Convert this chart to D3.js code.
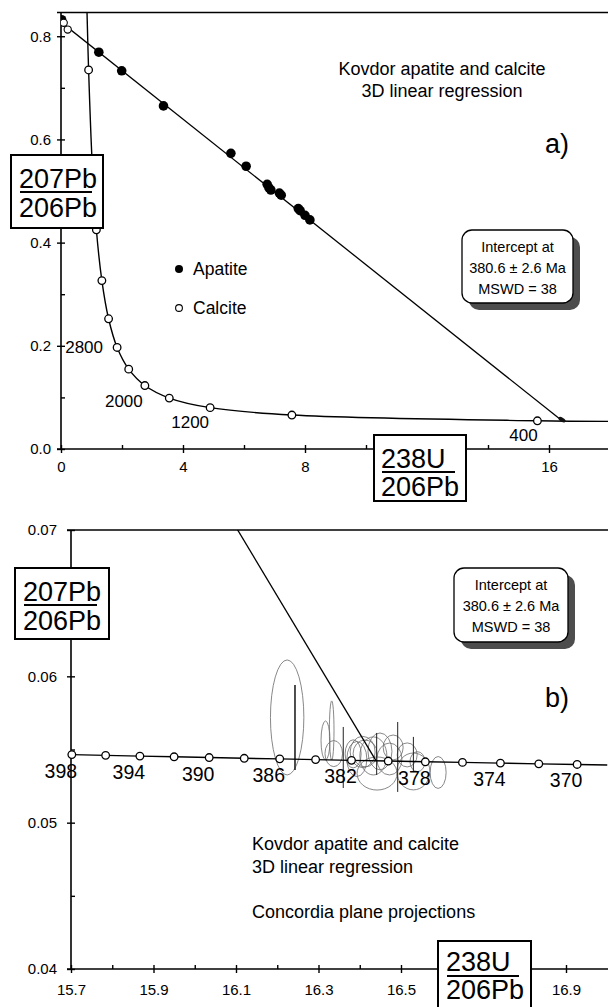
<!DOCTYPE html>
<html><head><meta charset="utf-8">
<script src="https://cdn.jsdelivr.net/npm/d3@7"></script>
<style>
html,body{margin:0;padding:0;background:#fff;}
svg{display:block;font-family:"Liberation Sans",Arial,sans-serif;}
</style></head>
<body>
<svg id="chart" width="608" height="1007"></svg>
<script>
// ---------- DATA ----------
// Panel a: apatite (filled) and calcite (open) analyses
const apatiteX = [0.02, 1.24, 1.99, 3.36, 5.57, 6.07, 6.76, 6.82, 6.88, 7.16, 7.22, 7.78, 7.84, 8.00, 8.16];
const apatiteY = [0.832, 0.769, 0.733, 0.665, 0.573, 0.548, 0.513, 0.506, 0.502, 0.496, 0.492, 0.466, 0.462, 0.453, 0.444];
const calciteX = [0.09, 0.22];
const calciteY = [0.826, 0.813];
// Concordia age markers, panel a (Ma)
const concAges = [400, 800, 1200, 1600, 2000, 2400, 2800, 3200, 3600, 4000, 4400, 4800];
const concAX = [15.62, 7.57, 4.89, 3.55, 2.75, 2.22, 1.84, 1.56, 1.34, 1.16, 1.02, 0.905];
const concAY = [0.0547, 0.0658, 0.0801, 0.0987, 0.1230, 0.1548, 0.1968, 0.2524, 0.3264, 0.4249, 0.5572, 0.7346];
// concordia curve ends (right edge and top edge)
const concAEndX = [18.0, 0.853];
const concAEndY = [0.0535, 0.846];
const concALabelAges = [400, 1200, 2000, 2800];
// Regression line (3D linear regression projection)
const regX = [0, 16.44];
const regY = [0.8275, 0.0542];

// Panel b: concordia markers every 2 Ma
const concBAges = [398, 396, 394, 392, 390, 388, 386, 384, 382, 380, 378, 376, 374, 372, 370];
const concBX = [15.702, 15.784, 15.867, 15.950, 16.035, 16.120, 16.206, 16.293, 16.380, 16.469, 16.559, 16.649, 16.741, 16.834, 16.927];
const concBY = [0.05465, 0.05460, 0.05455, 0.05450, 0.05445, 0.05440, 0.05436, 0.05431, 0.05426, 0.05421, 0.05416, 0.05412, 0.05407, 0.05402, 0.05398];
const concBEndX = [17.0];
const concBEndY = [0.05394];
const concBLabelAges = [398, 394, 390, 386, 382, 378, 374, 370];
// Error ellipses (centre, semi-axes) in data units
const ellCx = [16.224, 16.317, 16.332, 16.337, 16.384, 16.393, 16.407, 16.413, 16.433, 16.442, 16.449, 16.472, 16.481, 16.515, 16.530, 16.540, 16.590];
const ellCy = [0.05719, 0.05562, 0.05630, 0.05472, 0.05470, 0.05435, 0.05483, 0.05473, 0.05456, 0.05336, 0.05487, 0.05435, 0.05514, 0.05463, 0.05350, 0.05417, 0.05343];
const ellRx = [0.0405, 0.0109, 0.0056, 0.0213, 0.0194, 0.0242, 0.0303, 0.0291, 0.0327, 0.0485, 0.0291, 0.0303, 0.0242, 0.0242, 0.0400, 0.0182, 0.0194];
const ellRy = [0.00393, 0.00133, 0.00202, 0.00089, 0.00096, 0.00120, 0.00107, 0.00092, 0.00130, 0.00113, 0.00126, 0.00109, 0.00085, 0.00082, 0.00126, 0.00068, 0.00109];
// Vertical projection bars
const barX = [16.243, 16.360, 16.441, 16.492, 16.530];
const barY1 = [0.05941, 0.05654, 0.05613, 0.05688, 0.05586];
const barY2 = [0.05360, 0.05237, 0.05326, 0.05210, 0.05347];

// Ticks
const aXMajor = [0, 4, 8, 12, 16];
const aXLabeled = [0, 4, 8, 16];
const aXMinor = [2, 6, 10, 14];
const aYMajor = [0.0, 0.2, 0.4, 0.6, 0.8];
const aYMinor = [0.1, 0.3, 0.5, 0.7];
const bXMajor = [15.7, 15.9, 16.1, 16.3, 16.5, 16.7, 16.9];
const bXLabeled = [15.7, 15.9, 16.1, 16.3, 16.5, 16.9];
const bXMinor = [15.8, 16.0, 16.2, 16.4, 16.6, 16.8];
const bYMajor = [0.04, 0.05, 0.06, 0.07];
const bYMinor = [0.045, 0.055, 0.065];

// Texts
const titleLines = ["Kovdor apatite and calcite", "3D linear regression"];
const titleLinesB = ["Kovdor apatite and calcite", "3D linear regression", "Concordia plane projections"];
const interceptLines = ["Intercept at", "380.6 \u00b1 2.6 Ma", "MSWD = 38"];
const legendLabels = ["Apatite", "Calcite"];

// ---------- DRAWING ----------
const svg = d3.select("#chart");
const FONT = '"Liberation Sans", Arial, sans-serif';

// scales
const xa = d3.scaleLinear().domain([0, 18]).range([61, 610]);
const ya = d3.scaleLinear().domain([0, 0.846]).range([449, 12.5]);
const xb = d3.scaleLinear().domain([15.7, 17.0]).range([71, 607.25]);
const yb = d3.scaleLinear().domain([0.04, 0.07]).range([969, 530]);

function labelFmt(list, fmt) {
  return d => list.some(v => Math.abs(v - d) < 1e-9) ? fmt(d) : "";
}

function drawAxes(x, y, xMaj, xMin, yMaj, yMin, xFmt, yFmt, xPad, yPad) {
  const g = svg.append("g");
  const x0 = x.range()[0], y0 = y.range()[0], yTop = y.range()[1];
  const la = g.append("g").attr("transform", `translate(${x0},0)`)
    .call(d3.axisLeft(y).tickValues(yMaj).tickSize(4).tickSizeOuter(0).tickPadding(yPad).tickFormat(yFmt));
  la.select(".domain").remove();
  g.append("g").attr("transform", `translate(${x0},0)`)
    .call(d3.axisRight(y).tickValues(yMaj.concat(yMin)).tickSize(4).tickSizeOuter(0).tickFormat(""))
    .select(".domain").remove();
  const ba = g.append("g").attr("transform", `translate(0,${y0})`)
    .call(d3.axisBottom(x).tickValues(xMaj).tickSize(4).tickSizeOuter(0).tickPadding(xPad).tickFormat(xFmt));
  ba.select(".domain").remove();
  g.append("g").attr("transform", `translate(0,${y0})`)
    .call(d3.axisTop(x).tickValues(xMaj.concat(xMin)).tickSize(4).tickSizeOuter(0).tickFormat(""))
    .select(".domain").remove();
  g.selectAll(".tick line").attr("stroke", "#000").attr("stroke-width", 1.4);
  g.selectAll(".tick text").attr("font-family", FONT).attr("font-size", 15).attr("fill", "#000");
  g.selectAll(".tick text").filter(function () { return this.textContent === ""; }).remove();
  g.append("line").attr("x1", x0).attr("x2", x0).attr("y1", yTop).attr("y2", y0).attr("stroke", "#000").attr("stroke-width", 1.6);
  g.append("line").attr("x1", x0 - 4).attr("x2", 608).attr("y1", y0).attr("y2", y0).attr("stroke", "#000").attr("stroke-width", 1.6);
  g.append("line").attr("x1", x0 - 4).attr("x2", 608).attr("y1", yTop).attr("y2", yTop).attr("stroke", "#000").attr("stroke-width", 1.6);
  return g;
}

const defs = svg.append("defs");
defs.append("clipPath").attr("id", "clipA").append("rect")
  .attr("x", xa.range()[0]).attr("y", ya.range()[1]).attr("width", 608 - xa.range()[0]).attr("height", ya.range()[0] - ya.range()[1]);
defs.append("clipPath").attr("id", "clipB").append("rect")
  .attr("x", xb.range()[0]).attr("y", yb.range()[1]).attr("width", 608 - xb.range()[0]).attr("height", yb.range()[0] - yb.range()[1]);

// ===== Panel a =====
drawAxes(xa, ya, aXMajor, aXMinor, aYMajor, aYMinor, labelFmt(aXLabeled, d3.format("d")), d3.format(".1f"), 8, 6);
const pa = svg.append("g").attr("clip-path", "url(#clipA)");

const concAPts = [[concAEndX[0], concAEndY[0]]]
  .concat(concAX.map((v, i) => [v, concAY[i]]))
  .concat([[concAEndX[1], concAEndY[1]]]);
pa.append("path").datum(concAPts)
  .attr("d", d3.line().x(d => xa(d[0])).y(d => ya(d[1])).curve(d3.curveCatmullRom.alpha(0.5)))
  .attr("fill", "none").attr("stroke", "#000").attr("stroke-width", 1.4);

pa.append("line")
  .attr("x1", xa(regX[0])).attr("y1", ya(regY[0])).attr("x2", xa(regX[1])).attr("y2", ya(regY[1]))
  .attr("stroke", "#000").attr("stroke-width", 1.3);
pa.append("ellipse").attr("cx", xa(regX[1]) - 1).attr("cy", ya(regY[1]) - 1).attr("rx", 4).attr("ry", 2)
  .attr("transform", `rotate(30 ${xa(regX[1])} ${ya(regY[1])})`).attr("fill", "#111");

pa.selectAll("circle.conc").data(concAges).enter().append("circle")
  .attr("cx", (d, i) => xa(concAX[i])).attr("cy", (d, i) => ya(concAY[i])).attr("r", 3.8)
  .attr("fill", "#fff").attr("stroke", "#000").attr("stroke-width", 1.3);

pa.selectAll("circle.ap").data(apatiteX).enter().append("circle")
  .attr("cx", d => xa(d)).attr("cy", (d, i) => ya(apatiteY[i])).attr("r", 4.8).attr("fill", "#000");
pa.selectAll("circle.ca").data(calciteX).enter().append("circle")
  .attr("cx", d => xa(d)).attr("cy", (d, i) => ya(calciteY[i])).attr("r", 3.6)
  .attr("fill", "#fff").attr("stroke", "#000").attr("stroke-width", 1.1);

const aLabelOff = {400: [-14, 20], 1200: [-20, 20], 2000: [-21, 21], 2800: [-33, 6]};
svg.selectAll("text.agea").data(concALabelAges).enter().append("text")
  .attr("x", d => xa(concAX[concAges.indexOf(d)]) + aLabelOff[d][0])
  .attr("y", d => ya(concAY[concAges.indexOf(d)]) + aLabelOff[d][1])
  .attr("text-anchor", "middle").attr("font-family", FONT).attr("font-size", 17).text(d => d);

svg.selectAll("text.ta").data(titleLines).enter().append("text")
  .attr("x", 442).attr("y", (d, i) => 75 + i * 22).attr("text-anchor", "middle")
  .attr("font-family", FONT).attr("font-size", 18).text(d => d);
svg.append("text").attr("x", 545).attr("y", 153).attr("font-family", FONT).attr("font-size", 27).text("a)");

svg.append("circle").attr("cx", 179).attr("cy", 269).attr("r", 4).attr("fill", "#000");
svg.append("circle").attr("cx", 179).attr("cy", 308).attr("r", 3.4).attr("fill", "#fff").attr("stroke", "#000").attr("stroke-width", 1.1);
svg.selectAll("text.leg").data(legendLabels).enter().append("text")
  .attr("x", 193).attr("y", (d, i) => 275 + i * 39).attr("font-family", FONT).attr("font-size", 17.5).text(d => d);

function interceptBox(x, y, w, h) {
  const g = svg.append("g");
  g.append("rect").attr("x", x + 7).attr("y", y + 7).attr("width", w).attr("height", h).attr("rx", 10)
    .attr("fill", "#4d4d4d");
  g.append("rect").attr("x", x).attr("y", y).attr("width", w).attr("height", h).attr("rx", 10)
    .attr("fill", "#fff").attr("stroke", "#000").attr("stroke-width", 1.3);
  g.selectAll("text").data(interceptLines).enter().append("text")
    .attr("x", x + w / 2).attr("y", (d, i) => y + 22 + i * 21).attr("text-anchor", "middle")
    .attr("font-family", FONT).attr("font-size", 14.5).text(d => d);
}
interceptBox(462, 230, 111, 73);

function fracBox(x, y, w, h, top, bottom, tx, lineX2, topOff, lineOff, botOff) {
  const g = svg.append("g");
  g.append("rect").attr("x", x).attr("y", y).attr("width", w).attr("height", h)
    .attr("fill", "#fff").attr("stroke", "#000").attr("stroke-width", 2);
  g.append("text").attr("x", tx).attr("y", y + topOff).attr("font-family", FONT).attr("font-size", 27).text(top);
  g.append("line").attr("x1", tx + 1).attr("x2", lineX2).attr("y1", y + lineOff).attr("y2", y + lineOff).attr("stroke", "#000").attr("stroke-width", 2);
  g.append("text").attr("x", tx).attr("y", y + botOff).attr("font-family", FONT).attr("font-size", 27).text(bottom);
}
fracBox(11, 155, 92, 73, "207Pb", "206Pb", 19, 92, 33, 37, 62);
fracBox(374, 435, 92, 66, "238U", "206Pb", 381, 455, 33, 37, 61);

// ===== Panel b =====
drawAxes(xb, yb, bXMajor, bXMinor, bYMajor, bYMinor, labelFmt(bXLabeled, d3.format(".1f")), d3.format(".2f"), 11, 10);
const pb = svg.append("g").attr("clip-path", "url(#clipB)");

pb.selectAll("ellipse.err").data(ellCx).enter().append("ellipse")
  .attr("cx", d => xb(d)).attr("cy", (d, i) => yb(ellCy[i]))
  .attr("rx", (d, i) => xb(d + ellRx[i]) - xb(d))
  .attr("ry", (d, i) => yb(ellCy[i]) - yb(ellCy[i] + ellRy[i]))
  .attr("fill", "none").attr("stroke", "#6a6a6a").attr("stroke-width", 0.8);
pb.selectAll("line.bar").data(barX).enter().append("line")
  .attr("x1", d => xb(d)).attr("x2", d => xb(d))
  .attr("y1", (d, i) => yb(barY1[i])).attr("y2", (d, i) => yb(barY2[i]))
  .attr("stroke", "#222").attr("stroke-width", (d, i) => i === 0 ? 1.6 : 1);

const concBPts = concBX.map((v, i) => [v, concBY[i]]).concat([[concBEndX[0], concBEndY[0]]]);
pb.append("path").datum(concBPts)
  .attr("d", d3.line().x(d => xb(d[0])).y(d => yb(d[1])))
  .attr("fill", "none").attr("stroke", "#000").attr("stroke-width", 1.4);
pb.append("line")
  .attr("x1", xb(regX[0])).attr("y1", yb(regY[0])).attr("x2", xb(regX[1])).attr("y2", yb(regY[1]))
  .attr("stroke", "#000").attr("stroke-width", 1.3);
svg.selectAll("circle.concb").data(concBAges).enter().append("circle")
  .attr("cx", (d, i) => xb(concBX[i])).attr("cy", (d, i) => yb(concBY[i])).attr("r", 3.8)
  .attr("fill", "#fff").attr("stroke", "#000").attr("stroke-width", 1.3);
svg.selectAll("text.ageb").data(concBLabelAges).enter().append("text")
  .attr("x", d => xb(concBX[concBAges.indexOf(d)]) - 11)
  .attr("y", d => yb(concBY[concBAges.indexOf(d)]) + 23)
  .attr("text-anchor", "middle").attr("font-family", FONT).attr("font-size", 19.5).text(d => d);

svg.append("text").attr("x", 545).attr("y", 707).attr("font-family", FONT).attr("font-size", 27).text("b)");
svg.selectAll("text.tb").data(titleLinesB).enter().append("text")
  .attr("x", 252).attr("y", (d, i) => [850, 873, 918][i])
  .attr("font-family", FONT).attr("font-size", 18).text(d => d);

interceptBox(454, 568, 114, 74);
fracBox(15, 568, 94, 71, "207Pb", "206Pb", 23, 97, 33, 37, 62);
fracBox(438, 941, 93, 70, "238U", "206Pb", 446, 519, 30, 35, 58);
</script>
</body></html>
